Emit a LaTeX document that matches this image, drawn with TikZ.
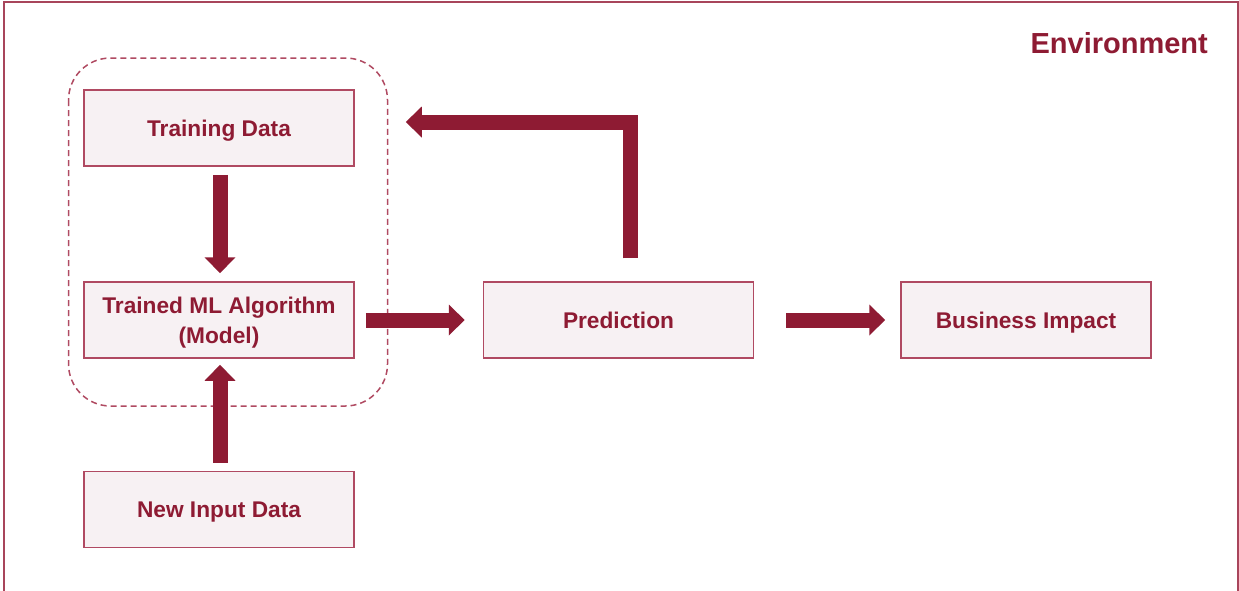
\documentclass[tikz,border=0pt]{standalone}
\usepackage{fontspec}
\setmainfont{Liberation Sans}
\usetikzlibrary{arrows.meta}
\definecolor{wine}{HTML}{8E1B33}
\definecolor{boxline}{HTML}{B04A62}
\definecolor{boxfill}{HTML}{F7F1F3}
\definecolor{framecol}{HTML}{A8455B}
\tikzset{
  stepbox/.style={draw=boxline, line width=1.5pt, fill=boxfill, minimum width=270pt, minimum height=76pt,
    inner sep=0pt, text=wine, font=\fontsize{22.7pt}{30pt}\selectfont\bfseries, align=center, text depth=0pt},
  oneline/.style={text height=16.25pt},
  fat/.style={draw=wine, line width=15pt, -{Triangle[width=30pt,length=16pt]}},
}
\begin{document}
\begin{tikzpicture}[x=1pt,y=-1pt]
\useasboundingbox (0,0) rectangle (1239,590);
\fill[white] (0,0) rectangle (1239,590);
% outer frame
\draw[framecol, line width=2pt] (3.5,1.5) rectangle (1238,620);
\node[anchor=east, text=wine, font=\fontsize{29pt}{34pt}\selectfont\bfseries, inner sep=0pt] (env) at (1208,43) {Environment};
% dashed group
\draw[boxline, line width=1.5pt, dash pattern=on 6pt off 4pt, rounded corners=42pt] (68.5,58) rectangle (387.5,406);
% boxes
\node[stepbox, oneline] (td) at (219,128) {Training Data};
\node[stepbox] (tm) at (219,320) {Trained ML Algorithm\\(Model)};
\node[stepbox, oneline] (ni) at (219,509.5) {New Input Data};
\node[stepbox, oneline] (pr) at (618.5,320) {Prediction};
\node[stepbox, oneline, minimum width=250pt] (bi) at (1026,320) {Business Impact};
% arrows
\draw[fat, shorten <=8pt, shorten >=8pt] ([xshift=1pt]td.south) -- ([xshift=1pt]tm.north);
\draw[fat, shorten <=8pt, shorten >=6pt] ([xshift=1pt]ni.north) -- ([xshift=1pt]tm.south);
\draw[fat, shorten <=11pt, shorten >=18pt] (tm.east) -- (pr.west);
\draw[fat, shorten <=32pt, shorten >=15pt] (pr.east) -- (bi.west);
\draw[fat, shorten <=23pt, shorten >=51pt] ([xshift=11.5pt]pr.north) |- ([yshift=6pt]td.east);
\end{tikzpicture}
\end{document}
